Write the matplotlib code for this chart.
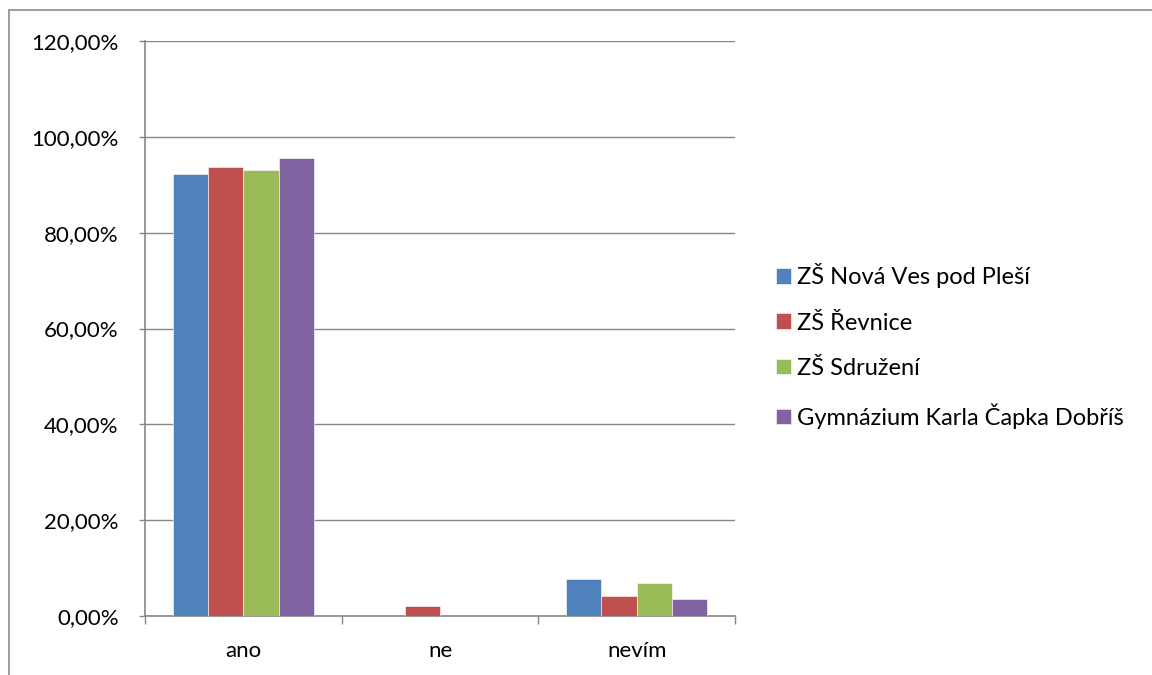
import matplotlib.pyplot as plt
from matplotlib.patches import Rectangle
from matplotlib.ticker import FuncFormatter, MultipleLocator
import numpy as np

plt.rcParams['font.family'] = ['Lato', 'DejaVu Sans']

categories = ['ano', 'ne', 'nevím']
series = ['ZŠ Nová Ves pod Pleší', 'ZŠ Řevnice', 'ZŠ Sdružení', 'Gymnázium Karla Čapka Dobříš']
nova_ves = [92.3, 0.0, 7.7]
revnice = [93.75, 2.08, 4.17]
sdruzeni = [93.1, 0.0, 6.9]
gymnazium = [95.5, 0.0, 3.45]
colors = ['#4F81BD', '#C0504D', '#9BBB59', '#8064A2']

values = [nova_ves, revnice, sdruzeni, gymnazium]

fig = plt.figure(figsize=(11.52, 6.75), dpi=100)
ax = fig.add_axes([145 / 1152, 59 / 675, 590 / 1152, 575 / 675])

# outer chart border
fig.patches.append(Rectangle((9 / 1152, -0.05), 1.2, 1 - 10 / 675 + 0.05,
                             transform=fig.transFigure, fill=False,
                             edgecolor='#8c8c8c', linewidth=1.2))

x = np.arange(len(categories))
w = 0.18
for i, (vals, name, c) in enumerate(zip(values, series, colors)):
    ax.bar(x + (i - 1.5) * w, vals, w, color=c, label=name,
           edgecolor='white', linewidth=0.4, zorder=3)

ax.set_xlim(-0.5, 2.5)
ax.set_ylim(0, 120)
ax.yaxis.set_major_locator(MultipleLocator(20))
ax.yaxis.set_major_formatter(FuncFormatter(lambda v, p: f'{v:.2f}%'.replace('.', ',')))
ax.grid(axis='y', color='#868686', linewidth=1, zorder=0)

ax.set_xticks(x)
ax.set_xticklabels(categories)
ax.set_xticks(np.arange(-0.5, 3, 1), minor=True)
ax.tick_params(axis='x', which='major', length=0, labelsize=16, pad=18)
ax.tick_params(axis='x', which='minor', length=6, color='#868686', width=1)
ax.tick_params(axis='y', length=4, color='#868686', width=1, labelsize=16, pad=15)

for s in ['top', 'right']:
    ax.spines[s].set_visible(False)
for s in ['left', 'bottom']:
    ax.spines[s].set_color('#868686')
    ax.spines[s].set_linewidth(1.2)

ax.legend(loc='center left', bbox_to_anchor=(776 / 1152, 1 - 346 / 675), bbox_transform=fig.transFigure,
          frameon=False, fontsize=17, handlelength=0.64, handleheight=0.64,
          handletextpad=0.25, labelspacing=1.03, borderaxespad=0, borderpad=0)

fig.savefig('out.png', dpi=100)
